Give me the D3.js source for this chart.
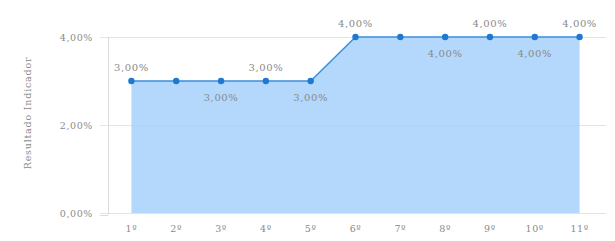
<!DOCTYPE html>
<html><head><meta charset="utf-8">
<script src="https://cdn.jsdelivr.net/npm/d3@7"></script>
<style>body{margin:0;background:#fff}svg{display:block}text{font-family:"DejaVu Serif",serif}</style>
</head><body>
<svg id="c" width="615" height="241"></svg>
<script>
const categories = ["1º","2º","3º","4º","5º","6º","7º","8º","9º","10º","11º"];
const values = [3,3,3,3,3,4,4,4,4,4,4];
const labelPos = ["above",null,"below","above","below","above",null,"below","above","below","above"];
const yTicks = [0,2,4];
const yTitle = "Resultado Indicador";

const svg = d3.select("#c");
const x = d3.scaleBand().domain(categories).range([109,602]);
const y = d3.scaleLinear().domain([0,4]).range([213,37]);
const cx = d => x(d) + x.bandwidth()/2;
const fmt = v => v.toFixed(2).replace(".",",") + "%";

// grid
svg.append("g").selectAll("line").data(yTicks).join("line")
  .attr("x1",100).attr("x2",606).attr("y1",d=>y(d)+0.5).attr("y2",d=>y(d)+0.5)
  .attr("stroke","#e4e4e4").attr("stroke-width",1);
// y axis line
svg.append("line").attr("x1",108.5).attr("x2",108.5).attr("y1",37).attr("y2",215)
  .attr("stroke","#dcdcdc");
svg.append("line").attr("x1",100).attr("x2",108).attr("y1",215.5).attr("y2",215.5)
  .attr("stroke","#dcdcdc");

// y tick labels
svg.append("g").selectAll("text").data(yTicks).join("text")
  .attr("x",93).attr("y",d=>y(d)+3.5).attr("text-anchor","end")
  .attr("font-size",9.5).attr("letter-spacing",0.6).attr("fill","#8a8a8a").text(fmt);

// y title
svg.append("text").attr("transform","translate(31,113) rotate(-90)")
  .attr("text-anchor","middle").attr("font-family","DejaVu Sans").attr("font-size",9.5)
  .attr("letter-spacing",0.8).attr("fill","#8a8a8a").text(yTitle);

// x labels
svg.append("g").selectAll("text").data(categories).join("text")
  .attr("x",d=>cx(d)).attr("y",232).attr("text-anchor","middle")
  .attr("font-size",9.5).attr("letter-spacing",0.6).attr("fill","#8a8a8a").text(d=>d);

const data = categories.map((c,i)=>({c,v:values[i],p:labelPos[i]}));
svg.append("path").datum(data)
  .attr("d",d3.area().x(d=>cx(d.c)).y0(y(0)).y1(d=>y(d.v)))
  .attr("fill","#a6d1fb").attr("fill-opacity",0.85);
svg.append("path").datum(data)
  .attr("d",d3.line().x(d=>cx(d.c)).y(d=>y(d.v)))
  .attr("fill","none").attr("stroke","#3b8fdc").attr("stroke-width",1.5);
svg.append("g").selectAll("circle").data(data).join("circle")
  .attr("cx",d=>cx(d.c)).attr("cy",d=>y(d.v)).attr("r",3.2).attr("fill","#1f78d1");
svg.append("g").selectAll("text").data(data.filter(d=>d.p)).join("text")
  .attr("x",d=>cx(d.c)).attr("y",d=>d.p==="above"? y(d.v)-10 : y(d.v)+20)
  .attr("text-anchor","middle").attr("font-size",10).attr("letter-spacing",0.6).attr("fill","#8a8a8a")
  .text(d=>fmt(d.v));
</script>
</body></html>
